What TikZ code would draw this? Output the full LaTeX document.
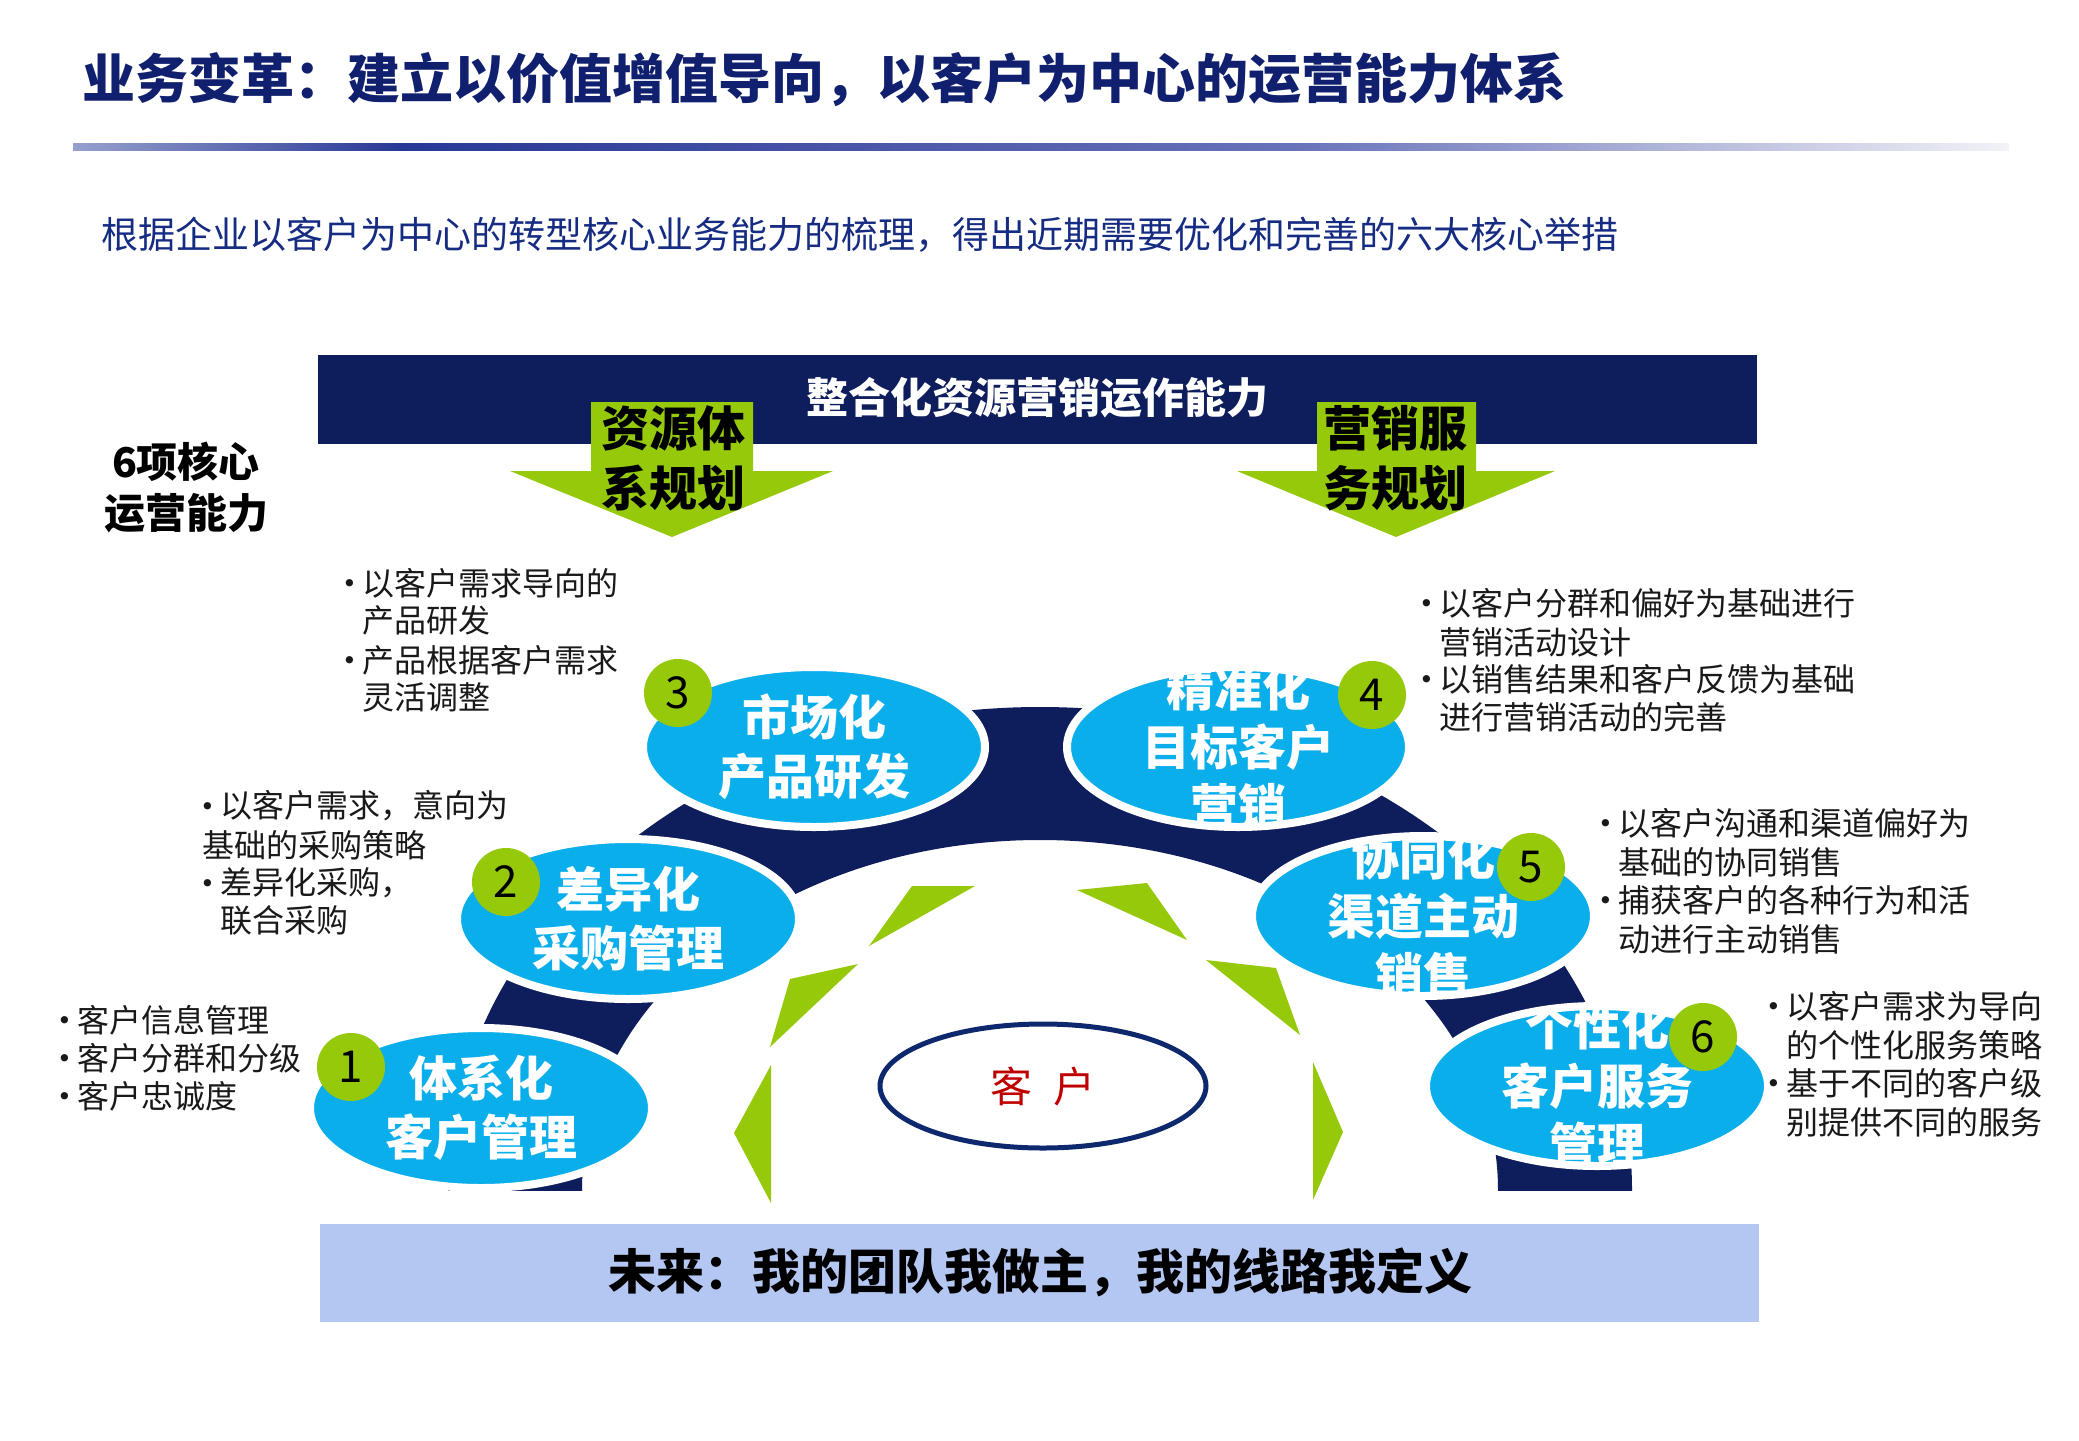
\documentclass[tikz,border=0pt]{standalone}
\usepackage{fontspec}
\setmainfont{Noto Sans CJK SC}
\newfontfamily\dejavu{DejaVu Sans}
\usetikzlibrary{shapes.geometric}
\definecolor{navy}{RGB}{14,30,92}
\definecolor{titleblue}{RGB}{16,32,110}
\definecolor{subblue}{RGB}{22,44,130}
\definecolor{cyanf}{RGB}{10,174,235}
\definecolor{greenf}{RGB}{150,201,10}
\definecolor{barblue}{RGB}{180,198,242}
\definecolor{redk}{RGB}{192,0,0}
\definecolor{ringblue}{RGB}{14,40,110}
\definecolor{txtgray}{RGB}{25,25,25}
\definecolor{lineL}{RGB}{150,160,205}
\definecolor{lineD}{RGB}{40,55,150}
\definecolor{lineM}{RGB}{105,115,185}
\definecolor{lineR}{RGB}{242,242,247}
\newcommand{\bul}{\makebox[20pt][l]{\raisebox{2.5pt}{\dejavu\fontsize{25}{25}\selectfont •}}}
\tikzset{
  bt/.style={font=\fontsize{32}{38}\selectfont, text=txtgray, inner sep=0pt, anchor=west},
  ell/.style={ellipse, fill=cyanf, draw=white, line width=8pt, inner sep=0pt,
              minimum width=342pt, minimum height=160pt},
  etxt/.style={font=\bfseries\fontsize{48}{59}\selectfont, text=white, align=center, inner sep=0pt},
  numc/.style={circle, fill=greenf, minimum size=68pt, inner sep=0pt,
               font=\fontsize{44}{44}\selectfont, text=black},
  garrow/.style={fill=greenf},
  gtri/.style={fill=greenf},
  atxt/.style={font=\bfseries\fontsize{48}{60}\selectfont, text=black, align=center, inner sep=0pt}
}
\begin{document}
\begin{tikzpicture}[x=1pt,y=-1pt]
\useasboundingbox (0,0) rectangle (2079,1440);
\fill[white] (0,0) rectangle (2079,1440);
% title
\node[font=\bfseries\fontsize{53}{60}\selectfont, text=titleblue, anchor=west, inner sep=0pt] (title) at (82,80) {业务变革：建立以价值增值导向，以客户为中心的运营能力体系};
% gradient rule
\shade[left color=lineL, right color=lineD] (73,143) rectangle (400,150);
\shade[left color=lineD, right color=lineM] (400,143) rectangle (1300,150);
\shade[left color=lineM, right color=lineR] (1300,143) rectangle (2009,150);
% subtitle
\node[font=\fontsize{37}{44}\selectfont, text=subblue, anchor=west, inner sep=0pt] (sub) at (101,235) {根据企业以客户为中心的转型核心业务能力的梳理，得出近期需要优化和完善的六大核心举措};
% top bar
\node[fill=navy, minimum width=1439pt, minimum height=89pt, inner sep=0pt, anchor=north west] (topbar) at (318,355) {};
\node[font=\bfseries\fontsize{42}{48}\selectfont, text=white, inner sep=0pt] (toptxt) at (1037,398) {整合化资源营销运作能力};
% green arrows
\fill[garrow] (591,402) -- (753,402) -- (753,471) -- (833,471) -- (672,537) -- (510,471) -- (591,471) -- cycle;
\fill[garrow] (1317,402) -- (1476,402) -- (1476,471) -- (1555,471) -- (1396,537) -- (1237,471) -- (1317,471) -- cycle;
\node[atxt] (arrL) at (673,458) {资源体\\系规划};
\node[atxt] (arrR) at (1395,458) {营销服\\务规划};
% left label
\node[font=\bfseries\fontsize{41}{51}\selectfont, text=black, align=center, inner sep=0pt] (six) at (186,487) {6项核心\\运营能力};
% navy band
\begin{scope}
\clip (0,0) rectangle (2079,1190);
\fill[navy, even odd rule] (1040,1190) ellipse [x radius=592, y radius=483]
                           (1040,1190) ellipse [x radius=458, y radius=350];
\end{scope}
% green spikes
\fill[gtri] (912,886) -- (975,886) -- (869,946) -- cycle;
\fill[gtri] (858,964) -- (790,979) -- (770,1047) -- cycle;
\fill[gtri] (771,1065) -- (734,1133) -- (771,1203) -- cycle;
\fill[gtri] (1077,890) -- (1147,883) -- (1187,940) -- cycle;
\fill[gtri] (1206,960) -- (1276,968) -- (1300,1035) -- cycle;
\fill[gtri] (1313,1062) -- (1343,1132) -- (1313,1200) -- cycle;
% customer
\node[ellipse, draw=ringblue, line width=5pt, minimum width=326pt, minimum height=124pt, inner sep=0pt,
      font=\fontsize{42}{42}\selectfont, text=redk] (kehu) at (1043,1086) {客\hspace{22pt}户};
% capability ellipses
\node[ell, path picture={\node[etxt] at (path picture bounding box.center) {体系化\\客户管理};}] (e1) at (481,1108) {};
\node[ell, path picture={\node[etxt] at (path picture bounding box.center) {差异化\\采购管理};}] (e2) at (628,919) {};
\node[ell, path picture={\node[etxt] at (path picture bounding box.center) {市场化\\产品研发};}] (e3) at (814,747) {};
\node[ell, path picture={\node[etxt] at (path picture bounding box.center) {精准化\\目标客户\\营销};}] (e4) at (1238,747) {};
\node[ell, path picture={\node[etxt] at (path picture bounding box.center) {协同化\\渠道主动\\销售};}] (e5) at (1423,916) {};
\node[ell, path picture={\node[etxt] at (path picture bounding box.center) {个性化\\客户服务\\管理};}] (e6) at (1597,1086) {};
% number badges
\node[numc] (c1) at (351,1067) {1};
\node[numc] (c2) at (506,882) {2};
\node[numc] (c3) at (678,693) {3};
\node[numc] (c4) at (1372,695) {4};
\node[numc] (c5) at (1531,867) {5};
\node[numc] (c6) at (1703,1037) {6};
% bullet texts block 3
\node[bt] (t3a) at (342,583) {\bul 以客户需求导向的};
\node[bt] (t3b) at (362,620) {产品研发};
\node[bt] (t3c) at (342,660) {\bul 产品根据客户需求};
\node[bt] (t3d) at (362,697) {灵活调整};
% block 2
\node[bt] (t2a) at (200,806) {\bul 以客户需求，意向为};
\node[bt] (t2b) at (202,845) {基础的采购策略};
\node[bt] (t2c) at (200,883) {\bul 差异化采购，};
\node[bt] (t2d) at (220,920) {联合采购};
% block 1
\node[bt] (t1a) at (57,1020) {\bul 客户信息管理};
\node[bt] (t1b) at (57,1058) {\bul 客户分群和分级};
\node[bt] (t1c) at (57,1096) {\bul 客户忠诚度};
% block 4
\node[bt] (t4a) at (1419,603) {\bul 以客户分群和偏好为基础进行};
\node[bt] (t4b) at (1439,642) {营销活动设计};
\node[bt] (t4c) at (1419,679) {\bul 以销售结果和客户反馈为基础};
\node[bt] (t4d) at (1439,717) {进行营销活动的完善};
% block 5
\node[bt] (t5a) at (1598,823) {\bul 以客户沟通和渠道偏好为};
\node[bt] (t5b) at (1618,862) {基础的协同销售};
\node[bt] (t5c) at (1598,900) {\bul 捕获客户的各种行为和活};
\node[bt] (t5d) at (1618,939) {动进行主动销售};
% block 6
\node[bt] (t6a) at (1766,1006) {\bul 以客户需求为导向};
\node[bt] (t6b) at (1786,1045) {的个性化服务策略};
\node[bt] (t6c) at (1766,1083) {\bul 基于不同的客户级};
\node[bt] (t6d) at (1786,1122) {别提供不同的服务};
% bottom bar
\node[fill=barblue, minimum width=1439pt, minimum height=98pt, inner sep=0pt, anchor=north west] (botbar) at (320,1224) {};
\node[font=\bfseries\fontsize{48}{54}\selectfont, text=black, inner sep=0pt] (bottxt) at (1040,1272) {未来：我的团队我做主，我的线路我定义};
\end{tikzpicture}
\end{document}
